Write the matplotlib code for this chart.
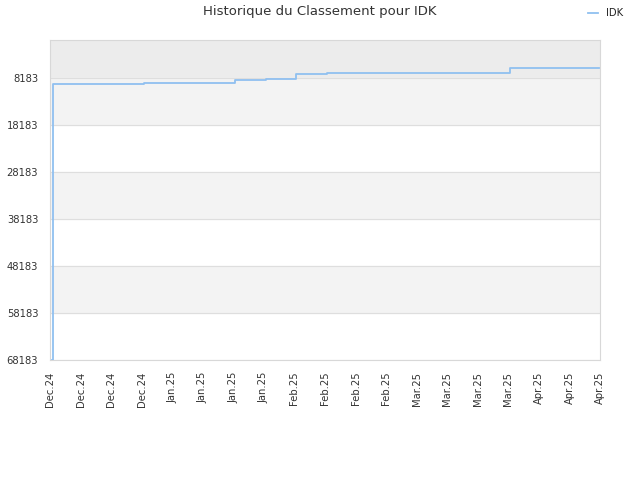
import numpy as np
import pandas as pd
import matplotlib
matplotlib.use("Agg")
import matplotlib.pyplot as plt

# Rank history (lower = better)
step_dates = ['2024-12-03 12:00', '2024-12-03 16:00', '2024-12-26 00:00', '2025-01-17 12:00',
              '2025-01-25 00:00', '2025-02-01 12:00', '2025-02-09 00:00', '2025-03-26 00:00',
              '2025-04-16 18:00']
step_ranks = [68183, 9350, 9180, 8550, 8330, 7270, 6950, 6050, 6050]

x_start = pd.Timestamp('2024-12-03')
x_end = pd.Timestamp('2025-04-17')
y_ticks = [8183, 18183, 28183, 38183, 48183, 58183, 68183]
y_top = 0
n_xticks = 19

dates = pd.to_datetime(step_dates, format='%Y-%m-%d %H:%M')

fig = plt.figure(figsize=(6.4, 4.8), dpi=100)
ax = fig.add_axes([50 / 640, 1 - 360 / 480, 550 / 640, 320 / 480])

# background bands
ax.axhspan(y_top, y_ticks[0], color='#ececec', zorder=0)
for i in range(len(y_ticks) - 1):
    if i % 2 == 0:
        ax.axhspan(y_ticks[i], y_ticks[i + 1], color='#f3f3f3', zorder=0)

ax.step(dates, step_ranks, where='post', color='#90c0f0', lw=1.3, label='IDK', zorder=3)

ax.set_ylim(y_ticks[-1], y_top)
ax.set_xlim(x_start, x_end)
ax.set_yticks(y_ticks)
ax.set_yticklabels([str(v) for v in y_ticks])

tick_pos = pd.to_datetime(np.linspace(x_start.value, x_end.value, n_xticks))
ax.set_xticks(tick_pos)
ax.set_xticklabels([d.strftime('%b.%y') for d in tick_pos], rotation=90)

ax.grid(axis='y', color='#dedede', lw=0.8, zorder=1)
ax.tick_params(axis='both', length=0, labelsize=7.2, colors='#333333', pad=8.5)
for s in ax.spines.values():
    s.set_color('#d8d8d8')

fig.text(0.5, 1 - 12 / 480, 'Historique du Classement pour IDK', ha='center', va='center',
         fontsize=9.5, color='#333333')
leg = fig.legend(loc='center right', bbox_to_anchor=(632 / 640, 1 - 13 / 480), frameon=False,
                 fontsize=7.2, handlelength=1.0, handletextpad=0.8)
for t in leg.get_texts():
    t.set_color('#222222')

fig.savefig('out.png', dpi=100)
